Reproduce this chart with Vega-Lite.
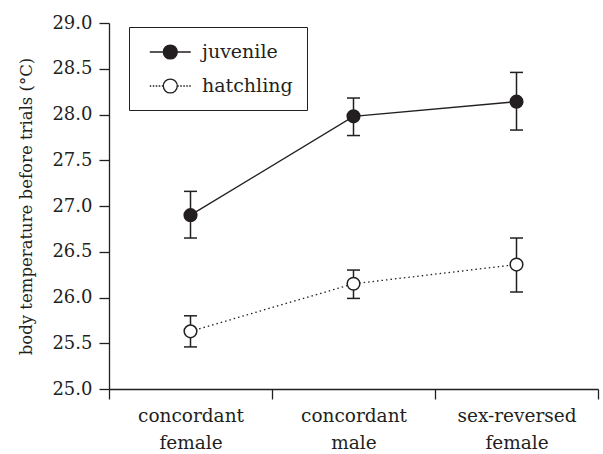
{
  "$schema": "https://vega.github.io/schema/vega-lite/v6.json",
  "width": 489,
  "height": 366,
  "autosize": {"type": "none"},
  "padding": {"left": 109, "top": 23, "right": 5, "bottom": 65},
  "background": "white",
  "config": {
    "view": {"stroke": null},
    "font": "DejaVu Serif",
    "axis": {
      "domainColor": "#231f20", "domainWidth": 1.3, "tickColor": "#231f20", "tickWidth": 1.3,
      "labelColor": "#231f20", "titleColor": "#231f20", "labelFont": "DejaVu Serif", "titleFont": "DejaVu Serif",
      "labelFontSize": 18, "titleFontSize": 16.5, "titleFontWeight": "normal", "grid": false
    },
    "legend": {"labelFont": "DejaVu Serif", "labelFontSize": 19, "labelColor": "#231f20"}
  },
  "data": {"values": [
    {"cat": "concordant female", "group": "juvenile", "mean": 26.9, "lo": 26.65, "hi": 27.16},
    {"cat": "concordant male", "group": "juvenile", "mean": 27.98, "lo": 27.77, "hi": 28.18},
    {"cat": "sex-reversed female", "group": "juvenile", "mean": 28.14, "lo": 27.83, "hi": 28.46},
    {"cat": "concordant female", "group": "hatchling", "mean": 25.63, "lo": 25.46, "hi": 25.8},
    {"cat": "concordant male", "group": "hatchling", "mean": 26.15, "lo": 25.99, "hi": 26.3},
    {"cat": "sex-reversed female", "group": "hatchling", "mean": 26.36, "lo": 26.06, "hi": 26.65}
  ]},
  "encoding": {
    "x": {
      "field": "cat", "type": "nominal",
      "sort": ["concordant female", "concordant male", "sex-reversed female"],
      "scale": {"paddingInner": 0, "paddingOuter": 0},
      "axis": {"title": null, "labelAngle": 0, "tickBand": "extent", "tickSize": 10, "labelPadding": 7,
               "labelFontSize": 18.5,
               "labelExpr": "split(datum.label, ' ')", "labelLineHeight": 27, "labelBaseline": "top"}
    }
  },
  "layer": [
    {
      "mark": {"type": "rule", "strokeWidth": 1.5, "color": "#231f20"},
      "encoding": {
        "y": {"field": "lo", "type": "quantitative",
              "scale": {"domain": [25, 29], "nice": false, "zero": false},
              "axis": {"title": "body temperature before trials (°C)", "values": [25, 25.5, 26, 26.5, 27, 27.5, 28, 28.5, 29],
                       "format": ".1f", "tickSize": 10, "labelPadding": 7, "titlePadding": 17}},
        "y2": {"field": "hi"}
      }
    },
    {
      "mark": {"type": "tick", "orient": "horizontal", "size": 13, "thickness": 1.5, "color": "#231f20", "opacity": 1},
      "encoding": {"y": {"field": "lo", "type": "quantitative"}}
    },
    {
      "mark": {"type": "tick", "orient": "horizontal", "size": 13, "thickness": 1.5, "color": "#231f20", "opacity": 1},
      "encoding": {"y": {"field": "hi", "type": "quantitative"}}
    },
    {
      "transform": [{"filter": "datum.group === 'juvenile'"}],
      "mark": {"type": "line", "strokeWidth": 1.3, "color": "#231f20"},
      "encoding": {"y": {"field": "mean", "type": "quantitative"}}
    },
    {
      "transform": [{"filter": "datum.group === 'hatchling'"}],
      "mark": {"type": "line", "strokeWidth": 1.3, "color": "#231f20", "strokeDash": [1.5, 3]},
      "encoding": {"y": {"field": "mean", "type": "quantitative"}}
    },
    {
      "mark": {"type": "circle", "size": 160, "stroke": "#231f20", "strokeWidth": 1.5, "opacity": 1},
      "encoding": {
        "y": {"field": "mean", "type": "quantitative"},
        "fill": {"field": "group", "type": "nominal",
                 "scale": {"domain": ["juvenile", "hatchling"], "range": ["#231f20", "white"]},
                 "legend": {"title": null, "orient": "none", "legendX": 20, "legendY": 4,
                            "strokeColor": "#231f20", "padding": 14, "rowPadding": 13,
                            "symbolType": "M-0.41,0L0.91,0M2.27,0L3.59,0M2.27,0A0.68,0.68,0,1,1,0.91,0A0.68,0.68,0,1,1,2.27,0Z",
                            "symbolSize": 420, "symbolStrokeColor": "#231f20", "symbolStrokeWidth": 1.3,
                            "symbolOpacity": 1, "labelOffset": 37,
                            "labelExpr": "datum.label + '\u00a0\u00a0\u00a0'",
                            "encode": {"symbols": {"update": {
                              "shape": {"signal": "datum.value === 'hatchling' ? 'M-0.41,0L-0.27,0M-0.12,0L0.03,0M0.17,0L0.32,0M0.46,0L0.61,0M0.76,0L0.91,0M2.27,0L2.42,0M2.56,0L2.71,0M2.86,0L3.01,0M3.15,0L3.3,0M3.44,0L3.59,0M2.27,0A0.68,0.68,0,1,1,0.91,0A0.68,0.68,0,1,1,2.27,0Z' : 'M-0.41,0L0.91,0M2.27,0L3.59,0M2.27,0A0.68,0.68,0,1,1,0.91,0A0.68,0.68,0,1,1,2.27,0Z'"}
                            }}}}}
      }
    }
  ]
}
